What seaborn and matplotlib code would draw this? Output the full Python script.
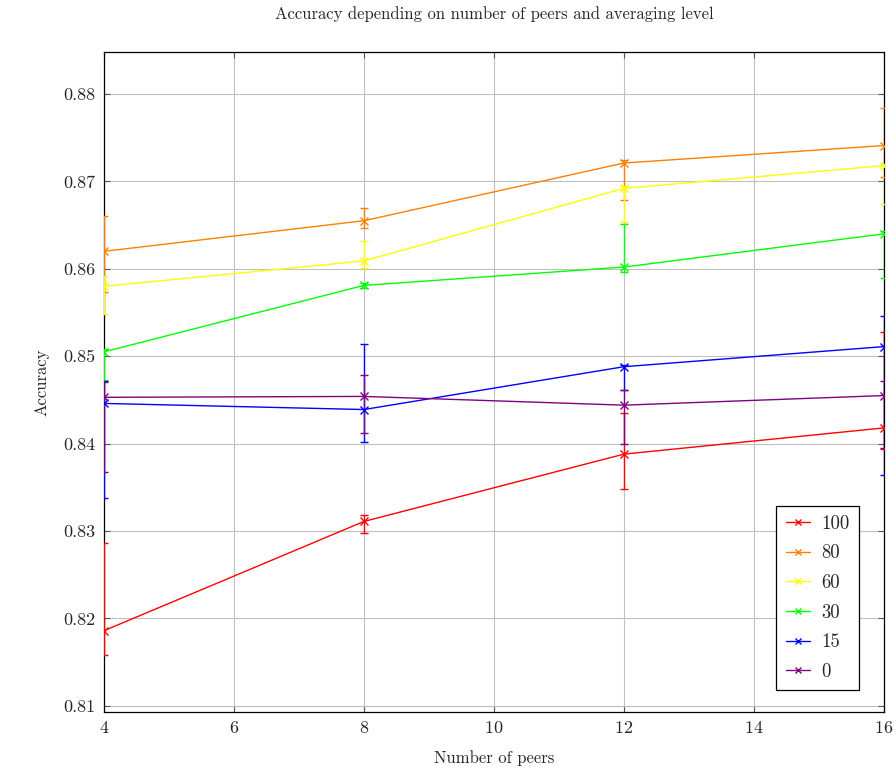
import numpy as np
import pandas as pd
import matplotlib
matplotlib.use('Agg')
import matplotlib.pyplot as plt
import seaborn as sns

# ── Data ──────────────────────────────────────────────────────────────────
peers = [4, 8, 12, 16]
levels = ['100', '80', '60', '30', '15', '0']
colors = ['#ff0000', '#ff8000', '#ffff00', '#00ff00', '#0000ff', '#800080']

acc_100 = [0.8186, 0.8311, 0.8388, 0.8418]
low_100 = [0.8158, 0.8298, 0.8348, 0.8394]
high_100 = [0.8286, 0.8318, 0.8435, 0.8528]

acc_80 = [0.8620, 0.8655, 0.8721, 0.8741]
low_80 = [0.8573, 0.8647, 0.8679, 0.8705]
high_80 = [0.8660, 0.8670, 0.8724, 0.8784]

acc_60 = [0.8580, 0.8609, 0.8692, 0.8718]
low_60 = [0.8548, 0.8601, 0.8653, 0.8674]
high_60 = [0.8592, 0.8632, 0.8695, 0.8720]

acc_30 = [0.8505, 0.8581, 0.8602, 0.8640]
low_30 = [0.8473, 0.8578, 0.8596, 0.8590]
high_30 = [0.8508, 0.8584, 0.8651, 0.8643]

acc_15 = [0.8446, 0.8439, 0.8488, 0.8511]
low_15 = [0.8338, 0.8402, 0.8461, 0.8364]
high_15 = [0.8472, 0.8514, 0.8490, 0.8546]

acc_0 = [0.8453, 0.8454, 0.8444, 0.8455]
low_0 = [0.8368, 0.8412, 0.8400, 0.8395]
high_0 = [0.8471, 0.8478, 0.8461, 0.8472]

series = {
    '100': (acc_100, low_100, high_100),
    '80': (acc_80, low_80, high_80),
    '60': (acc_60, low_60, high_60),
    '30': (acc_30, low_30, high_30),
    '15': (acc_15, low_15, high_15),
    '0': (acc_0, low_0, high_0),
}

rows = []
for lvl in levels:
    for p, a in zip(peers, series[lvl][0]):
        rows.append({'peers': p, 'acc': a, 'level': lvl})
df = pd.DataFrame(rows)

# ── Style ─────────────────────────────────────────────────────────────────
sns.set_style('whitegrid')
plt.rcParams['font.family'] = 'serif'
plt.rcParams['font.serif'] = ['cmr10', 'DejaVu Serif']
plt.rcParams['axes.formatter.use_mathtext'] = True
plt.rcParams['mathtext.fontset'] = 'cm'

fig = plt.figure(figsize=(8.96, 7.76), dpi=100)
ax = fig.add_axes([104 / 896, 1 - 712 / 776, 780 / 896, 660 / 776])

# error bars first, then lines + markers on top
for i, lvl in enumerate(levels):
    a, lo, hi = (np.array(v) for v in series[lvl])
    ax.errorbar(peers, a, yerr=[a - lo, hi - a], fmt='none',
                ecolor=colors[i], elinewidth=1.0, capsize=3,
                capthick=1.0, zorder=3 + i * 0.1)

n_before = len(ax.get_lines())
sns.lineplot(data=df, x='peers', y='acc', hue='level', hue_order=levels,
             palette=colors, marker='x', markersize=5.5, markeredgewidth=1.0,
             linewidth=1.0, errorbar=None, ax=ax, zorder=4)

# seaborn paints marker edges white; give them the line colour instead
for ln in ax.get_lines()[n_before:]:
    ln.set_markeredgecolor(ln.get_color())

ax.set_xlim(4, 16)
ax.set_ylim(0.8093, 0.8848)
ax.set_xticks([4, 6, 8, 10, 12, 14, 16])
ax.set_yticks([0.81, 0.82, 0.83, 0.84, 0.85, 0.86, 0.87, 0.88])
ax.set_yticklabels([f'{v:.2f}' for v in ax.get_yticks()])
ax.tick_params(direction='in', length=4, width=0.8, top=True, right=True,
               bottom=True, left=True, labelsize=13, color='#555555', pad=6)

ax.grid(True, color='#c0c0c0', linewidth=0.8)
for s in ax.spines.values():
    s.set_color('black')
    s.set_linewidth(0.9)

ax.set_xlabel('Number of peers', fontsize=12, labelpad=10)
ax.set_ylabel('Accuracy', fontsize=12, labelpad=10)
ax.set_title('Accuracy depending on number of peers and averaging level',
             fontsize=12, pad=24)

handles, labels = ax.get_legend_handles_labels()
for h in handles:
    h.set_markeredgecolor(h.get_color())
leg = ax.legend(handles, labels, loc='lower right',
                bbox_to_anchor=(1 - 25 / 780, 22 / 660), borderaxespad=0,
                fontsize=13.5, frameon=True, fancybox=False,
                edgecolor='black', framealpha=1, handlelength=1.3,
                handletextpad=0.6, labelspacing=0.62, markerscale=0.7,
                borderpad=0.5)
leg.get_frame().set_linewidth(0.9)

fig.savefig('out.png', dpi=100)
